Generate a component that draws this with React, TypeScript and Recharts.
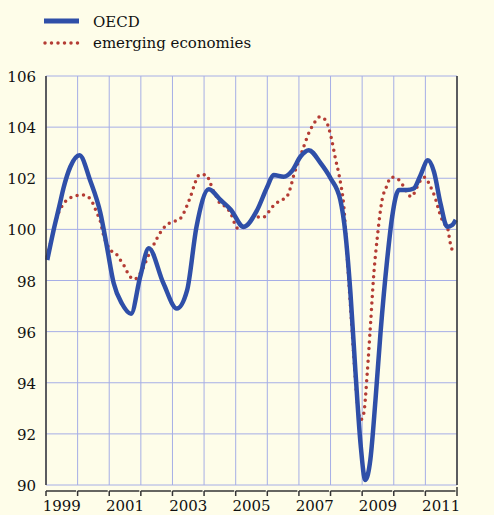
import { LineChart, Line, XAxis, YAxis, CartesianGrid } from 'recharts';

// decimal years
const oecdYears = [
  1999.04, 1999.24, 1999.42, 1999.55, 1999.77, 2000.06, 2000.4, 2000.72, 2000.93, 2001.14,
  2001.4, 2001.69, 2001.98, 2002.25, 2002.71, 2003.14, 2003.46, 2003.76, 2004.15, 2004.52,
  2004.84, 2005.25, 2005.68, 2006.0, 2006.2, 2006.52, 2006.79, 2007.05, 2007.31, 2007.68,
  2008.0, 2008.31, 2008.47, 2008.63, 2008.79, 2008.95, 2009.1, 2009.26, 2009.42, 2009.58,
  2009.79, 2009.95, 2010.16, 2010.42, 2010.63, 2010.84, 2011.08, 2011.27, 2011.48, 2011.69,
  2011.85, 2011.96,
];
const oecdValues = [
  98.8, 99.97, 100.9, 101.6, 102.45, 102.9, 101.9, 100.64, 99.3, 97.9,
  97.1, 96.7, 98.15, 99.26, 97.9, 96.9, 97.6, 100.1, 101.57, 101.15,
  100.78, 100.1, 100.76, 101.67, 102.13, 102.06, 102.3, 102.85, 103.1, 102.6,
  102.0, 101.15, 99.85, 97.5, 94.4, 91.6, 90.2, 91.0, 93.3, 95.94,
  98.8, 100.5, 101.54, 101.54, 101.6, 102.1, 102.7, 102.26, 101.0, 100.1,
  100.17, 100.37,
];

const emergingYears = [
  1999.04, 1999.19, 1999.3, 1999.5, 1999.66, 1999.87, 2000.14, 2000.35, 2000.49, 2000.61,
  2000.7, 2000.82, 2001.03, 2001.22, 2001.35, 2001.49, 2001.61, 2001.8, 2001.96, 2002.09,
  2002.2, 2002.39, 2002.51, 2002.65, 2002.8, 2003.02, 2003.25, 2003.38, 2003.48, 2003.57,
  2003.65, 2003.73, 2003.86, 2004.07, 2004.18, 2004.27, 2004.39, 2004.5, 2004.71, 2004.85,
  2005.06, 2005.25, 2005.62, 2005.85, 2006.18, 2006.39, 2006.6, 2006.71, 2006.84, 2007.0,
  2007.17, 2007.36, 2007.49, 2007.66, 2007.84, 2008.0, 2008.15, 2008.31, 2008.42, 2008.52,
  2008.63, 2008.73, 2008.84, 2008.95, 2009.05, 2009.16, 2009.26, 2009.37, 2009.47, 2009.63,
  2009.77, 2009.92, 2010.13, 2010.28, 2010.4, 2010.56, 2010.68, 2010.79, 2010.97, 2011.1,
  2011.21, 2011.32, 2011.42, 2011.58, 2011.69, 2011.79, 2011.87,
];
const emergingValues = [
  98.95, 99.7, 100.3, 100.9, 101.15, 101.28, 101.35, 101.25, 101.0, 100.63,
  100.4, 99.78, 99.2, 99.04, 98.8, 98.54, 98.24, 98.05, 98.24, 98.54,
  98.87, 99.36, 99.65, 99.94, 100.16, 100.3, 100.43, 100.7, 100.99, 101.28,
  101.58, 101.87, 102.14, 102.14, 101.87, 101.58, 101.28, 101.02, 100.86, 100.6,
  100.05, 100.07, 100.5, 100.46, 100.9, 101.12, 101.24, 101.54, 102.13, 102.7,
  103.3, 103.9, 104.17, 104.4, 104.28, 103.7, 102.8, 101.86, 100.9, 99.06,
  97.0, 95.15, 93.3, 92.54, 92.8, 94.37, 96.2, 98.28, 99.58, 101.15,
  101.67, 102.04, 101.97, 101.74, 101.47, 101.28, 101.5, 101.8, 102.04, 101.83,
  101.54, 101.2, 100.76, 100.24, 100.1, 99.45, 99.1,
];

const yearTicks = [1999, 2000, 2001, 2002, 2003, 2004, 2005, 2006, 2007, 2008, 2009, 2010, 2011, 2012];
const labelledYears = [1999, 2001, 2003, 2005, 2007, 2009, 2011];
const valueTicks = [90, 92, 94, 96, 98, 100, 102, 104, 106];

const oecdData = oecdYears.map((t, i) => ({ t, v: oecdValues[i] }));
const emergingData = emergingYears.map((t, i) => ({ t, v: emergingValues[i] }));

const W = 494;
const H = 515;
const LEFT_W = 46;
const RIGHT_W = 37;
const STEP = (W - LEFT_W - RIGHT_W) / (yearTicks.length - 1);

const BG = '#fefde9';
const GRID = '#a6aee6';
const AXIS = '#333333';
const BLUE = '#2f4fa8';
const RED = '#b43c34';
const SERIF = "'DejaVu Serif', serif";
const FS = 15;

const YearTick = (props: any) => {
  const { x, y, payload } = props;
  const year = payload.value as number;
  const last = year === yearTicks[yearTicks.length - 1];
  return (
    <g>
      <line x1={x} x2={x} y1={last ? y : y + 4} y2={y + 9} stroke={AXIS} strokeWidth={1.5} />
      {!last && <line x1={x} x2={x + STEP - 1.5} y1={y + 4} y2={y + 4} stroke={AXIS} strokeWidth={1.5} />}
      {labelledYears.includes(year) && (
        <text x={x + STEP / 2} y={y + 24} textAnchor="middle" fontFamily={SERIF} fontSize={FS} fill="#111111">
          {year}
        </text>
      )}
    </g>
  );
};

const ValueTick = (props: any) => {
  const { x, y, payload, textAnchor } = props;
  return (
    <text x={x} y={y} dy={6} textAnchor={textAnchor} fontFamily={SERIF} fontSize={FS} fill="#111111">
      {payload.value}
    </text>
  );
};

export default function App() {
  return (
    <div style={{ position: 'absolute', left: 0, top: 0, width: W, height: H, background: BG }}>
      <LineChart width={W} height={H} margin={{ top: 76, right: 0, bottom: 0, left: 0 }}>
        <CartesianGrid stroke={GRID} strokeWidth={1} />
        <XAxis
          type="number"
          dataKey="t"
          domain={[1999, 2012]}
          ticks={yearTicks}
          interval={0}
          height={30}
          tickSize={0}
          tick={<YearTick />}
          axisLine={false}
          tickLine={false}
        />
        <YAxis
          yAxisId={0}
          domain={[90, 106]}
          ticks={valueTicks}
          interval={0}
          width={LEFT_W}
          tickSize={0}
          tickMargin={10}
          tick={<ValueTick />}
          axisLine={{ stroke: AXIS, strokeWidth: 1.5 }}
          tickLine={false}
        />
        <YAxis
          yAxisId="right"
          orientation="right"
          domain={[90, 106]}
          ticks={valueTicks}
          interval={0}
          width={RIGHT_W}
          tickSize={0}
          tickMargin={9}
          tick={<ValueTick />}
          axisLine={{ stroke: AXIS, strokeWidth: 1.5 }}
          tickLine={false}
        />
        <Line
          data={emergingData}
          dataKey="v"
          type="monotone"
          stroke={RED}
          strokeWidth={3.5}
          strokeDasharray="0 6.5"
          strokeLinecap="round"
          dot={false}
          activeDot={false}
          isAnimationActive={false}
        />
        <Line
          data={oecdData}
          dataKey="v"
          type="monotone"
          stroke={BLUE}
          strokeWidth={4.5}
          dot={false}
          activeDot={false}
          isAnimationActive={false}
        />
      </LineChart>
      <svg width={300} height={60} style={{ position: 'absolute', left: 0, top: 0 }}>
        <line x1={44} x2={79} y1={21} y2={21} stroke={BLUE} strokeWidth={5} />
        <text x={93} y={27} fontFamily={SERIF} fontSize={FS} fill="#111111">OECD</text>
        <line x1={45} x2={79} y1={43} y2={43} stroke={RED} strokeWidth={3.5} strokeDasharray="0 6.5" strokeLinecap="round" />
        <text x={93} y={48} fontFamily={SERIF} fontSize={FS} fill="#111111">emerging economies</text>
      </svg>
    </div>
  );
}
